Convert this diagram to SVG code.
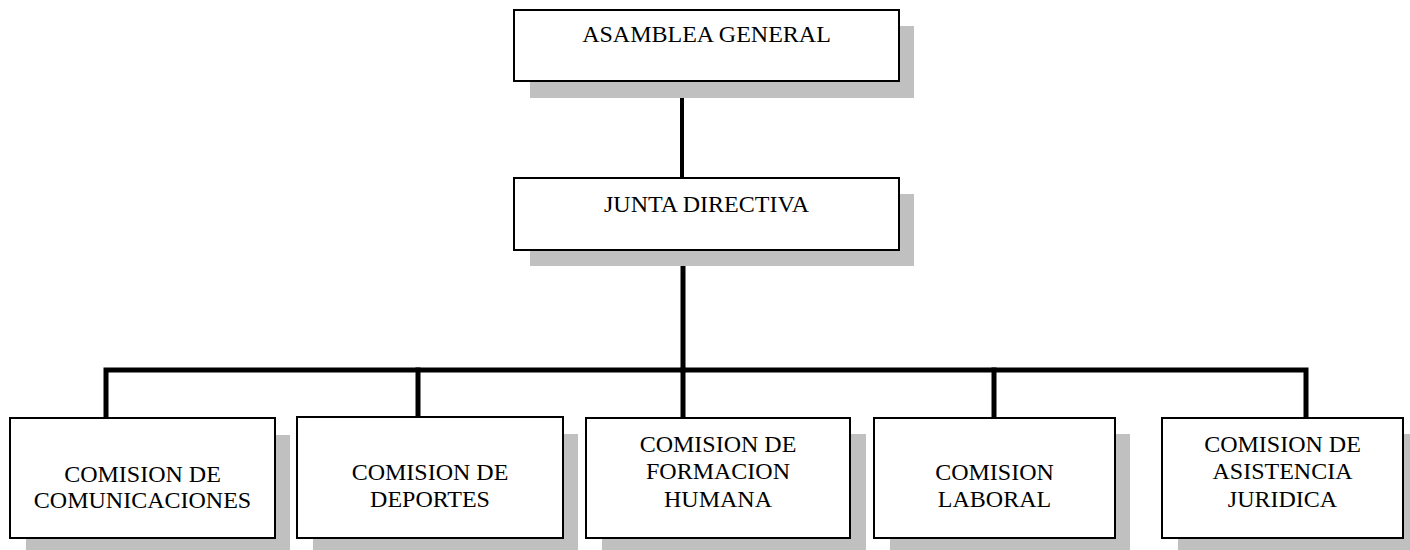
<svg xmlns="http://www.w3.org/2000/svg" width="1410" height="550" viewBox="0 0 1410 550">
<style>
.shadow{fill:#c0c0c0;stroke:none}
.box{fill:#ffffff;stroke:#000000;stroke-width:2}
.lbl{font-family:"Liberation Serif","Times New Roman",serif;font-size:24px;fill:#000000;text-anchor:middle}
.conn{fill:none;stroke:#000000;stroke-linecap:square;stroke-linejoin:miter}
</style>
<rect width="1410" height="550" fill="#ffffff"/>
<g id="connectors">
<line class="conn" x1="682" y1="82" x2="682" y2="176" stroke-width="4"/>
<line class="conn" x1="683" y1="251" x2="683" y2="370" stroke-width="5"/>
<polyline class="conn" points="106,416 106,370 1306,370 1306,416" stroke-width="5"/>
<line class="conn" x1="418" y1="370" x2="418" y2="416" stroke-width="5"/>
<line class="conn" x1="683" y1="370" x2="683" y2="416" stroke-width="5"/>
<line class="conn" x1="994" y1="370" x2="994" y2="416" stroke-width="5"/>
</g>
<g id="asamblea">
<rect class="shadow" x="530" y="26" width="384" height="72"/>
<rect class="box" x="514" y="10" width="385" height="71"/>
<text class="lbl" x="706.5" y="42">ASAMBLEA GENERAL</text>
</g>
<g id="junta">
<rect class="shadow" x="530" y="194" width="384" height="72"/>
<rect class="box" x="514" y="178" width="385" height="72"/>
<text class="lbl" x="706.5" y="212">JUNTA DIRECTIVA</text>
</g>
<g id="comunicaciones">
<rect class="shadow" x="26" y="435" width="264" height="115"/>
<rect class="box" x="10" y="418" width="265" height="120"/>
<text class="lbl" x="142.5" y="482">COMISION DE</text>
<text class="lbl" x="142.5" y="508">COMUNICACIONES</text>
</g>
<g id="deportes">
<rect class="shadow" x="313" y="434" width="265" height="116"/>
<rect class="box" x="297" y="417" width="266" height="121"/>
<text class="lbl" x="430" y="480">COMISION DE</text>
<text class="lbl" x="430" y="507">DEPORTES</text>
</g>
<g id="formacion">
<rect class="shadow" x="602" y="434" width="264" height="116"/>
<rect class="box" x="586" y="418" width="264" height="120"/>
<text class="lbl" x="718" y="452">COMISION DE</text>
<text class="lbl" x="718" y="479">FORMACION</text>
<text class="lbl" x="718" y="507">HUMANA</text>
</g>
<g id="laboral">
<rect class="shadow" x="890" y="434" width="240" height="116"/>
<rect class="box" x="874" y="418" width="241" height="120"/>
<text class="lbl" x="994.5" y="480">COMISION</text>
<text class="lbl" x="994.5" y="507">LABORAL</text>
</g>
<g id="juridica">
<rect class="shadow" x="1178" y="434" width="232" height="116"/>
<rect class="box" x="1162" y="418" width="241" height="120"/>
<text class="lbl" x="1282.5" y="452">COMISION DE</text>
<text class="lbl" x="1282.5" y="479">ASISTENCIA</text>
<text class="lbl" x="1282.5" y="507">JURIDICA</text>
</g>
</svg>
